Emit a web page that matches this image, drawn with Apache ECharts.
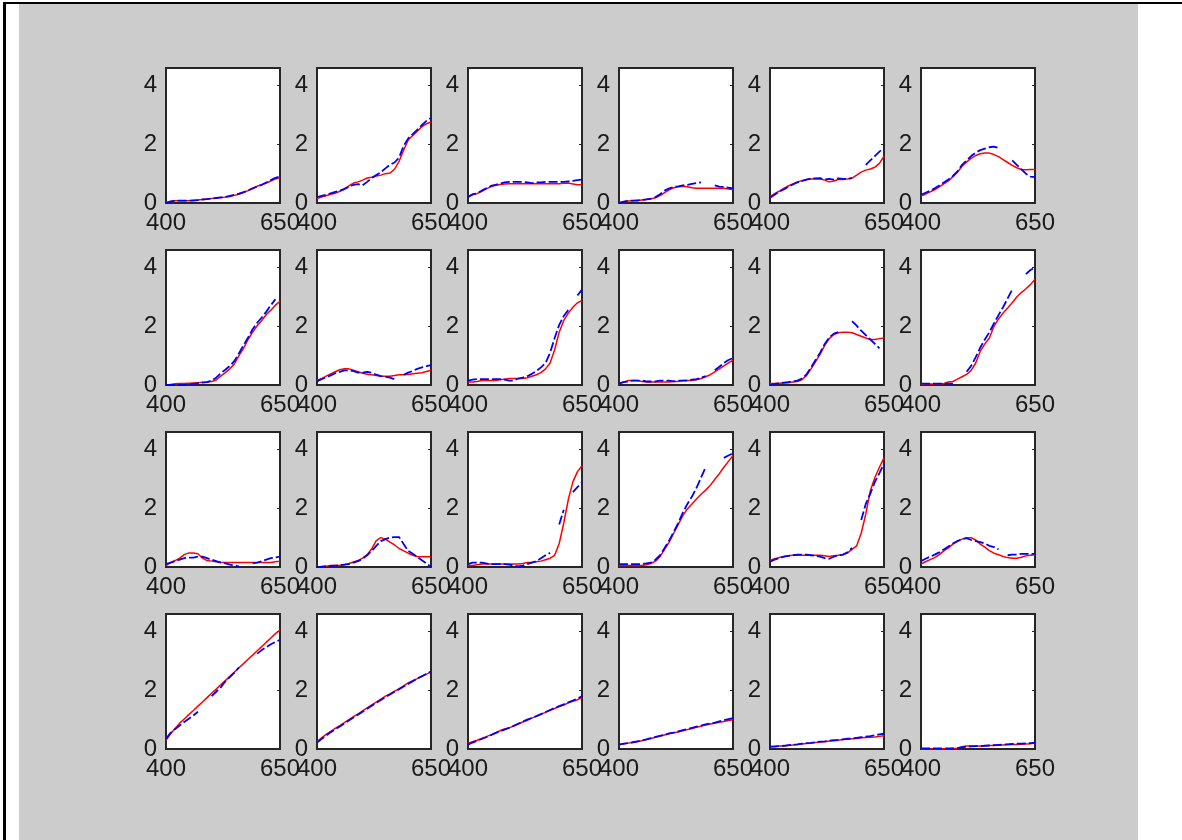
<!DOCTYPE html>
<html><head><meta charset="utf-8">
<script src="https://cdn.jsdelivr.net/npm/echarts@6/dist/echarts.min.js"></script>
<style>
html,body{margin:0;padding:0;background:#fff;width:1182px;height:840px;overflow:hidden;}
#panel{position:absolute;left:19px;top:4px;width:1119px;height:836px;background:#cccccc;}
#topline{position:absolute;left:3px;top:2px;width:1179px;height:2px;background:#000;}
#leftline{position:absolute;left:3px;top:2px;width:3px;height:838px;background:#000;}
#chart{position:absolute;left:0;top:0;width:1182px;height:840px;}
</style></head><body>
<div id="panel"></div><div id="topline"></div><div id="leftline"></div><div id="chart"></div>
<script>
const xs = [400,410,420,430,440,450,460,470,480,490,500,510,520,530,540,550,560,570,580,590,600,610,620,630,640,650];
const xTicks = [400,650];
const yTicks = [0,2,4];

const r1c1Red = [0.02,0.06,0.08,0.08,0.08,0.08,0.09,0.1,0.12,0.14,0.15,0.17,0.18,0.2,0.22,0.26,0.3,0.36,0.42,0.5,0.57,0.62,0.68,0.75,0.82,0.86];
const r1c1Blue = [0,0.05,0.08,0.08,0.08,0.08,0.08,0.1,0.12,0.13,0.15,0.17,0.19,0.21,0.24,0.28,0.32,0.37,0.43,0.5,0.56,0.62,0.7,0.78,0.86,0.9];
const r1c2Red = [0.15,0.2,0.25,0.3,0.33,0.4,0.47,0.58,0.68,0.72,0.78,0.85,0.88,0.92,0.95,1.0,1.02,1.15,1.42,1.8,2.15,2.3,2.45,2.6,2.7,2.76];
const r1c2Blue = [0.2,0.24,0.28,0.33,0.38,0.42,0.48,0.55,0.62,0.64,0.6,0.72,0.85,0.95,1.05,1.18,1.3,1.38,1.55,1.95,2.2,2.35,2.5,2.65,2.8,2.9];
const r1c3Red = [0.22,0.28,0.32,0.4,0.48,0.55,0.6,0.63,0.65,0.66,0.66,0.66,0.66,0.66,0.66,0.66,0.66,0.66,0.66,0.66,0.66,0.67,0.68,0.65,0.62,0.62];
const r1c3Blue = [0.2,0.3,0.33,0.42,0.5,0.58,0.62,0.66,0.7,0.72,0.72,0.72,0.72,0.7,0.68,0.7,0.7,0.72,0.72,0.72,0.72,0.72,0.74,0.75,0.78,0.8];
const r1c4Red = [0.02,0.05,0.07,0.08,0.08,0.1,0.12,0.14,0.18,0.25,0.35,0.45,0.52,0.55,0.57,0.55,0.52,0.5,0.5,0.5,0.5,0.5,0.5,0.5,0.48,0.46];
const r1c4Blue = [0,0.04,0.08,0.08,0.09,0.1,0.12,0.15,0.2,0.3,0.42,0.5,0.55,0.57,0.6,0.62,0.65,0.68,0.7,null,null,0.6,0.56,0.55,0.52,0.5];
const r1c5Red = [0.22,0.32,0.4,0.5,0.58,0.65,0.72,0.76,0.8,0.82,0.83,0.82,0.78,0.72,0.75,0.8,0.8,0.82,0.85,0.95,1.05,1.12,1.16,1.22,1.35,1.6];
const r1c5Blue = [0.18,0.28,0.38,0.46,0.55,0.63,0.7,0.75,0.8,0.83,0.84,0.85,0.8,0.82,0.8,0.84,0.82,0.82,0.85,null,null,1.3,1.45,1.6,1.75,1.88];
const r1c6Red = [0.25,0.3,0.38,0.45,0.55,0.65,0.75,0.9,1.05,1.25,1.4,1.52,1.62,1.68,1.7,1.7,1.65,1.58,1.48,1.38,1.28,1.2,1.14,1.13,1.14,1.14];
const r1c6Blue = [0.28,0.35,0.42,0.5,0.6,0.7,0.8,0.92,1.08,1.3,1.45,1.6,1.72,1.8,1.85,1.9,1.92,1.88,null,null,1.45,1.3,1.15,1.0,0.9,0.88];

const r2c1Red = [0,0.02,0.04,0.05,0.05,0.06,0.07,0.08,0.09,0.1,0.12,0.17,0.3,0.42,0.55,0.72,1.0,1.25,1.55,1.8,2.02,2.2,2.4,2.55,2.72,2.85];
const r2c1Blue = [0,0,0,0,0,0.02,0.04,0.06,0.08,0.1,0.15,0.25,0.4,0.52,0.65,0.82,1.08,1.35,1.62,1.9,2.12,2.3,2.5,2.72,2.92,null];
const r2c2Red = [0.15,0.22,0.3,0.38,0.45,0.52,0.55,0.55,0.5,0.45,0.4,0.37,0.35,0.32,0.3,0.3,0.3,0.32,0.35,0.35,0.36,0.38,0.4,0.42,0.46,0.5];
const r2c2Blue = [0.12,0.2,0.26,0.33,0.4,0.45,0.5,0.5,0.47,0.42,0.42,0.45,0.42,0.35,0.3,0.28,0.25,0.2,null,0.35,0.42,0.48,0.55,0.6,0.64,0.68];
const r2c3Red = [0.1,0.1,0.12,0.15,0.15,0.15,0.15,0.18,0.2,0.22,0.22,0.22,0.22,0.25,0.3,0.35,0.42,0.55,0.75,1.2,1.8,2.2,2.45,2.65,2.8,2.88];
const r2c3Blue = [0.15,0.18,0.2,0.2,0.2,0.2,0.2,0.2,0.18,0.15,0.15,0.22,0.25,0.3,0.38,0.48,0.6,0.75,1.1,1.6,2.05,2.35,2.55,null,3.05,3.25];
const r2c4Red = [0.05,0.1,0.15,0.15,0.15,0.12,0.1,0.1,0.1,0.1,0.1,0.1,0.12,0.12,0.15,0.15,0.15,0.18,0.22,0.28,0.35,0.45,0.55,0.65,0.75,0.85];
const r2c4Blue = [0.05,0.1,0.12,0.15,0.15,0.15,0.12,0.12,0.12,0.15,0.15,0.15,0.12,0.15,0.15,0.15,0.18,0.2,0.25,0.3,null,0.5,0.62,0.75,0.85,0.92];
const r2c5Red = [0.05,0.05,0.06,0.07,0.08,0.1,0.12,0.18,0.32,0.55,0.8,1.05,1.35,1.58,1.72,1.78,1.8,1.8,1.78,1.72,1.66,1.6,1.55,1.55,1.58,1.6];
const r2c5Blue = [0,0.04,0.06,0.08,0.1,0.12,0.15,0.22,0.36,0.6,0.85,1.1,1.4,1.62,1.75,1.8,null,null,2.18,2.02,1.85,1.7,1.55,1.4,1.25,null];
const r2c6Red = [0.02,0.03,0.03,0.03,0.03,0.05,0.1,0.12,0.2,0.28,0.36,0.5,0.75,1.15,1.4,1.6,2.0,2.25,2.45,2.62,2.8,3.0,3.15,3.28,3.42,3.6];
const r2c6Blue = [0.05,0.05,0.05,0.05,0.05,0.05,0.05,0.05,null,null,0.45,0.65,0.95,1.28,1.55,1.8,2.1,2.38,2.65,2.95,3.25,null,null,3.78,3.92,4.0];

const r3c1Red = [0.05,0.15,0.22,0.3,0.42,0.48,0.48,0.45,0.3,0.22,0.2,0.18,0.16,0.15,0.15,0.15,0.15,0.15,0.15,0.15,0.15,0.15,0.15,0.15,0.18,0.2];
const r3c1Blue = [0.1,0.15,0.2,0.25,0.3,0.32,0.32,0.35,0.35,0.3,0.25,0.2,0.15,0.12,0.08,0.05,0.02,null,null,0.12,0.15,0.2,0.25,0.3,0.33,0.35];
const r3c2Red = [0,0.02,0.03,0.05,0.05,0.06,0.08,0.12,0.17,0.22,0.3,0.42,0.62,0.9,1.0,0.95,0.85,0.75,0.63,0.55,0.47,0.4,0.36,0.35,0.35,0.35];
const r3c2Blue = [0,0,0.02,0.04,0.05,0.06,0.08,0.1,0.15,0.2,0.28,0.4,0.55,0.72,0.88,0.95,1.0,1.02,1.02,0.78,0.55,0.45,0.34,0.23,0.12,0];
const r3c3Red = [0.05,0.05,0.08,0.1,0.1,0.1,0.1,0.1,0.1,0.1,0.1,0.1,0.12,0.15,0.15,0.18,0.2,0.25,0.3,0.4,0.8,1.5,2.3,2.9,3.25,3.45];
const r3c3Blue = [0.1,0.15,0.15,0.15,0.12,0.1,0.1,0.1,0.1,0.08,0.05,0.02,0.05,0.1,0.15,0.2,0.3,0.4,0.48,null,1.45,1.95,null,2.55,2.72,2.88];
const r3c4Red = [0.05,0.05,0.05,0.05,0.05,0.05,0.08,0.12,0.2,0.35,0.6,0.85,1.15,1.45,1.75,1.98,2.15,2.32,2.48,2.62,2.78,2.98,3.18,3.4,3.6,3.8];
const r3c4Blue = [0.1,0.1,0.1,0.1,0.1,0.1,0.12,0.15,0.25,0.4,0.65,0.9,1.2,1.5,1.85,2.15,2.4,2.7,3.05,3.4,null,null,null,3.72,3.8,3.88];
const r3c5Red = [0.22,0.28,0.32,0.35,0.38,0.4,0.4,0.4,0.4,0.4,0.4,0.4,0.38,0.36,0.38,0.4,0.42,0.48,0.6,0.72,1.15,1.8,2.6,3.05,3.4,3.72];
const r3c5Blue = [0.18,0.25,0.3,0.35,0.38,0.4,0.42,0.42,0.42,0.4,0.38,0.35,0.3,0.28,0.35,0.4,0.42,0.5,0.65,null,1.6,2.15,2.5,2.9,3.2,3.52];
const r3c6Red = [0.1,0.18,0.25,0.32,0.42,0.55,0.65,0.78,0.88,0.95,1.0,1.0,0.92,0.78,0.68,0.56,0.47,0.42,0.36,0.32,0.3,0.3,0.33,0.38,0.4,0.42];
const r3c6Blue = [0.2,0.28,0.35,0.42,0.5,0.6,0.7,0.8,0.88,0.95,0.98,0.92,0.88,0.85,0.8,0.72,0.68,0.6,null,0.4,0.42,0.42,0.45,0.45,0.45,0.45];

const r4c1Red = [0.3,0.52,0.7,0.88,1.02,1.17,1.31,1.46,1.6,1.75,1.9,2.04,2.19,2.33,2.48,2.62,2.77,2.91,3.06,3.2,3.35,3.49,3.64,3.78,3.93,4.05];
const r4c1Blue = [0.35,0.55,0.68,0.8,0.92,1.03,1.14,1.27,null,null,1.8,1.95,2.1,2.3,2.45,2.6,2.78,null,null,null,3.25,3.37,3.47,3.57,3.65,3.72];
const r4c2Red = [0.25,0.38,0.5,0.6,0.7,0.8,0.9,1.0,1.1,1.2,1.3,1.4,1.5,1.6,1.7,1.8,1.88,1.97,2.05,2.15,2.25,2.33,2.4,2.48,2.55,2.62];
const r4c2Blue = [0.22,0.34,0.46,0.57,0.67,0.77,0.87,0.97,1.07,1.17,1.27,1.37,1.47,1.57,1.67,1.77,1.86,1.95,2.04,2.13,2.22,2.31,2.4,2.48,2.56,2.64];
const r4c3Red = [0.2,0.25,0.3,0.36,0.42,0.48,0.55,0.62,0.68,0.72,0.78,0.85,0.92,0.98,1.05,1.12,1.18,1.25,1.32,1.38,1.45,1.5,1.57,1.63,1.68,1.75];
const r4c3Blue = [0.15,0.22,0.28,0.34,0.4,0.47,0.54,0.6,0.66,0.72,0.79,0.86,0.93,1.0,1.06,1.12,1.19,1.26,1.33,1.4,1.46,1.52,1.59,1.65,1.72,1.8];
const r4c4Red = [0.15,0.17,0.2,0.22,0.25,0.28,0.32,0.36,0.4,0.44,0.48,0.52,0.55,0.58,0.62,0.66,0.7,0.74,0.78,0.82,0.85,0.88,0.91,0.94,0.97,1.0];
const r4c4Blue = [0.15,0.18,0.2,0.23,0.26,0.29,0.33,0.37,0.41,0.45,0.49,0.53,0.56,0.6,0.64,0.68,0.72,0.76,0.8,0.84,0.87,0.9,0.94,0.98,1.02,1.05];
const r4c5Red = [0.08,0.08,0.1,0.1,0.12,0.14,0.15,0.17,0.19,0.2,0.22,0.24,0.25,0.27,0.28,0.3,0.32,0.33,0.35,0.36,0.38,0.39,0.4,0.41,0.43,0.45];
const r4c5Blue = [0.08,0.09,0.1,0.11,0.13,0.15,0.16,0.18,0.2,0.21,0.23,0.25,0.26,0.28,0.3,0.31,0.33,0.35,0.36,0.38,0.4,0.42,0.44,0.47,0.5,0.52];
const r4c6Red = [0,0,0,0,0,0.01,0.01,0.02,0.02,0.08,0.1,0.1,0.1,0.1,0.11,0.12,0.12,0.13,0.14,0.15,0.15,0.15,0.16,0.17,0.18,0.2];
const r4c6Blue = [0.02,0.02,0.02,0.02,0.02,0.02,0.02,0.02,0.03,0.06,0.08,0.09,0.1,0.1,0.11,0.12,0.13,0.14,0.15,0.16,0.17,0.18,0.18,0.19,0.2,0.22];

const panels = [
  [r1c1Red,r1c1Blue],[r1c2Red,r1c2Blue],[r1c3Red,r1c3Blue],[r1c4Red,r1c4Blue],[r1c5Red,r1c5Blue],[r1c6Red,r1c6Blue],
  [r2c1Red,r2c1Blue],[r2c2Red,r2c2Blue],[r2c3Red,r2c3Blue],[r2c4Red,r2c4Blue],[r2c5Red,r2c5Blue],[r2c6Red,r2c6Blue],
  [r3c1Red,r3c1Blue],[r3c2Red,r3c2Blue],[r3c3Red,r3c3Blue],[r3c4Red,r3c4Blue],[r3c5Red,r3c5Blue],[r3c6Red,r3c6Blue],
  [r4c1Red,r4c1Blue],[r4c2Red,r4c2Blue],[r4c3Red,r4c3Blue],[r4c4Red,r4c4Blue],[r4c5Red,r4c5Blue],[r4c6Red,r4c6Blue]
];

const FONT = 'Liberation Sans, Arial, sans-serif';
const grids = [], xAxes = [], yAxes = [], series = [];
const toPairs = arr => xs.map((x, j) => [x, arr[j] === null ? '-' : arr[j]]);

panels.forEach((p, i) => {
  const row = Math.floor(i / 6), col = i % 6;
  grids.push({
    left: 166 + col * 151, top: 68 + row * 182, width: 114, height: 135,
    show: true, backgroundColor: '#ffffff', borderColor: '#262626', borderWidth: 2
  });
  xAxes.push({
    gridIndex: i, type: 'value', min: 400, max: 650, interval: 50,
    axisLine: { show: false }, axisTick: { show: false }, splitLine: { show: false },
    axisLabel: {
      formatter: v => xTicks.includes(v) ? String(v) : '',
      color: '#1a1a1a', fontSize: 24, fontFamily: FONT, margin: 8,
      showMinLabel: true, showMaxLabel: true, hideOverlap: false
    }
  });
  yAxes.push({
    gridIndex: i, type: 'value', min: 0, max: 4.6, interval: 2,
    axisLine: { show: false }, axisTick: { show: false }, splitLine: { show: false },
    axisLabel: {
      formatter: v => yTicks.includes(v) ? String(v) : '',
      color: '#1a1a1a', fontSize: 24, fontFamily: FONT, margin: 9
    }
  });
  yAxes.push({
    gridIndex: i, type: 'value', position: 'right', min: 0, max: 4.6, interval: 2,
    axisLine: { show: false }, splitLine: { show: false }, axisLabel: { show: false },
    axisTick: { show: true, inside: true, length: 3, lineStyle: { color: '#262626', width: 1 } }
  });
  series.push({
    type: 'line', xAxisIndex: i, yAxisIndex: 2 * i, data: toPairs(p[0]),
    symbol: 'none', showSymbol: false, connectNulls: false, animation: false,
    lineStyle: { color: '#ff0000', width: 1.5 }, z: 3
  });
  series.push({
    type: 'line', xAxisIndex: i, yAxisIndex: 2 * i, data: toPairs(p[1]),
    symbol: 'none', showSymbol: false, connectNulls: false, animation: false,
    lineStyle: { color: '#0000ff', width: 1.8, type: [9, 3] }, z: 4
  });
});

const chart = echarts.init(document.getElementById('chart'), null, { renderer: 'canvas' });
chart.setOption({
  backgroundColor: 'transparent',
  animation: false,
  grid: grids, xAxis: xAxes, yAxis: yAxes, series: series
});
</script>
</body></html>
